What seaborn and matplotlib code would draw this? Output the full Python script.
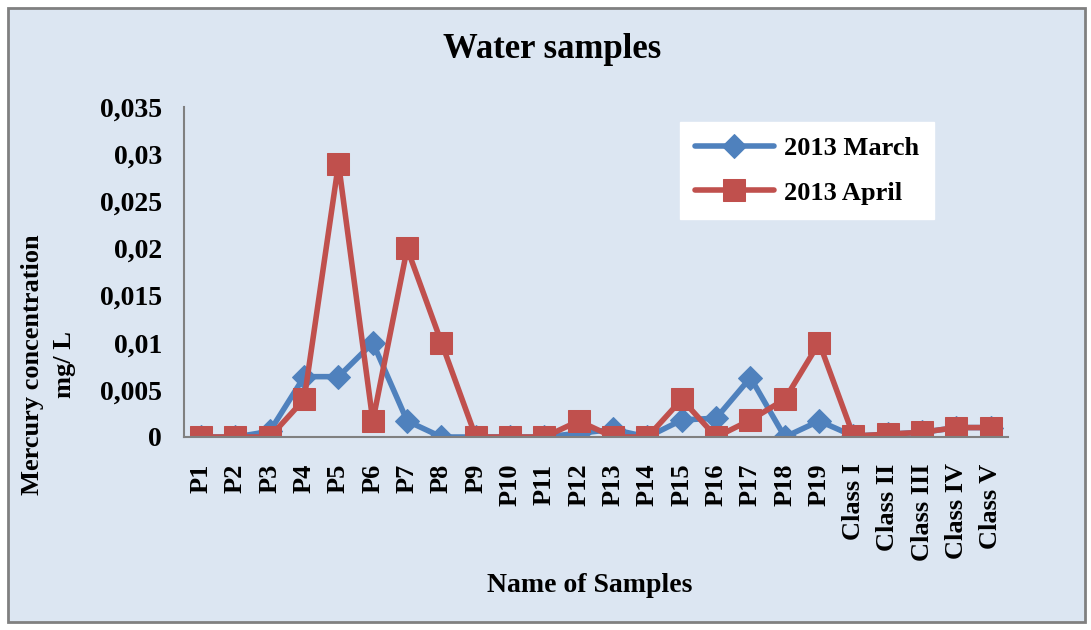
import numpy as np
import pandas as pd
import matplotlib.pyplot as plt
import seaborn as sns
from matplotlib.patches import Rectangle
from matplotlib.ticker import FuncFormatter

# data
samples = ['P1', 'P2', 'P3', 'P4', 'P5', 'P6', 'P7', 'P8', 'P9', 'P10', 'P11', 'P12',
           'P13', 'P14', 'P15', 'P16', 'P17', 'P18', 'P19',
           'Class I', 'Class II', 'Class III', 'Class IV', 'Class V']
march = [0, 0, 0.0006, 0.0064, 0.0064, 0.01, 0.0017, 0, 0, 0, 0, 0.0004,
         0.0008, 0, 0.0018, 0.002, 0.0063, 0, 0.0017,
         0.0001, 0.0003, 0.0005, 0.001, 0.001]
april = [0, 0, 0, 0.004, 0.029, 0.0017, 0.02, 0.01, 0, 0, 0, 0.0017,
         0, 0, 0.004, 0, 0.0018, 0.004, 0.01,
         0.0001, 0.0003, 0.0005, 0.001, 0.001]

bg = '#DCE6F2'
blue = '#4F81BD'
red = '#C0504D'

sns.set_style('white')
plt.rcParams['font.family'] = ['Liberation Serif', 'DejaVu Serif']
plt.rcParams['font.weight'] = 'bold'
plt.rcParams['text.color'] = 'black'
plt.rcParams['xtick.labelcolor'] = 'black'
plt.rcParams['ytick.labelcolor'] = 'black'

df = pd.DataFrame({'sample': samples, 'march': march, 'april': april})
df['pos'] = np.arange(len(samples))

fig = plt.figure(figsize=(10.91, 6.3), dpi=100)
fig.patch.set_facecolor('white')
fig.patches.append(Rectangle((8 / 1091, 8 / 630), 1077 / 1091, 614 / 630,
                             transform=fig.transFigure, facecolor=bg,
                             edgecolor='#808080', linewidth=2, zorder=-10))

ax = fig.add_axes([184 / 1091, 193 / 630, 824 / 1091, 330 / 630])
ax.set_facecolor('none')

sns.lineplot(data=df, x='pos', y='march', ax=ax, color=blue, linewidth=4,
             marker='D', markersize=12, markeredgecolor=blue, label='2013 March', sort=False)
sns.lineplot(data=df, x='pos', y='april', ax=ax, color=red, linewidth=4,
             marker='s', markersize=16, markeredgecolor=red, label='2013 April', sort=False)

ax.set_xlim(-0.5, len(samples) - 0.5)
ax.set_ylim(0, 0.035)
ax.set_yticks(np.arange(0, 0.0351, 0.005))
ax.yaxis.set_major_formatter(FuncFormatter(lambda v, p: '0' if v == 0 else ('%g' % round(v, 4)).replace('.', ',')))
ax.set_xticks(df['pos'])
ax.set_xticklabels(samples, rotation=90, fontsize=19, fontweight='bold')
ax.tick_params(axis='y', labelsize=20, length=6, width=1.5, color='#808080', pad=10)
ax.tick_params(axis='x', length=0, pad=19)
for lab in ax.get_yticklabels():
    lab.set_fontweight('bold')

for s in ['top', 'right']:
    ax.spines[s].set_visible(False)
for s in ['left', 'bottom']:
    ax.spines[s].set_color('#808080')
    ax.spines[s].set_linewidth(1.5)

ax.set_xlabel('')
ax.set_ylabel('')
fig.text(552 / 1091, 580 / 630, 'Water samples', ha='center', va='center',
         fontsize=25, fontweight='bold')
fig.text(590 / 1091, 45 / 630, 'Name of Samples', ha='center', va='center',
         fontsize=20, fontweight='bold')
fig.text(49 / 1091, 265 / 630, 'Mercury concentration\nmg/ L', ha='center', va='center',
         rotation=90, fontsize=19, fontweight='bold', linespacing=1.5)

leg = ax.legend(loc='upper left', bbox_to_anchor=(496 / 824, 1 - 15 / 330),
                prop={'family': 'Liberation Serif', 'weight': 'bold', 'size': 19},
                frameon=True, fancybox=False, edgecolor='white', framealpha=1,
                handlelength=3, borderpad=0.55, labelspacing=0.8, handletextpad=0.4,
                borderaxespad=0)

fig.savefig('out.png', dpi=100)
